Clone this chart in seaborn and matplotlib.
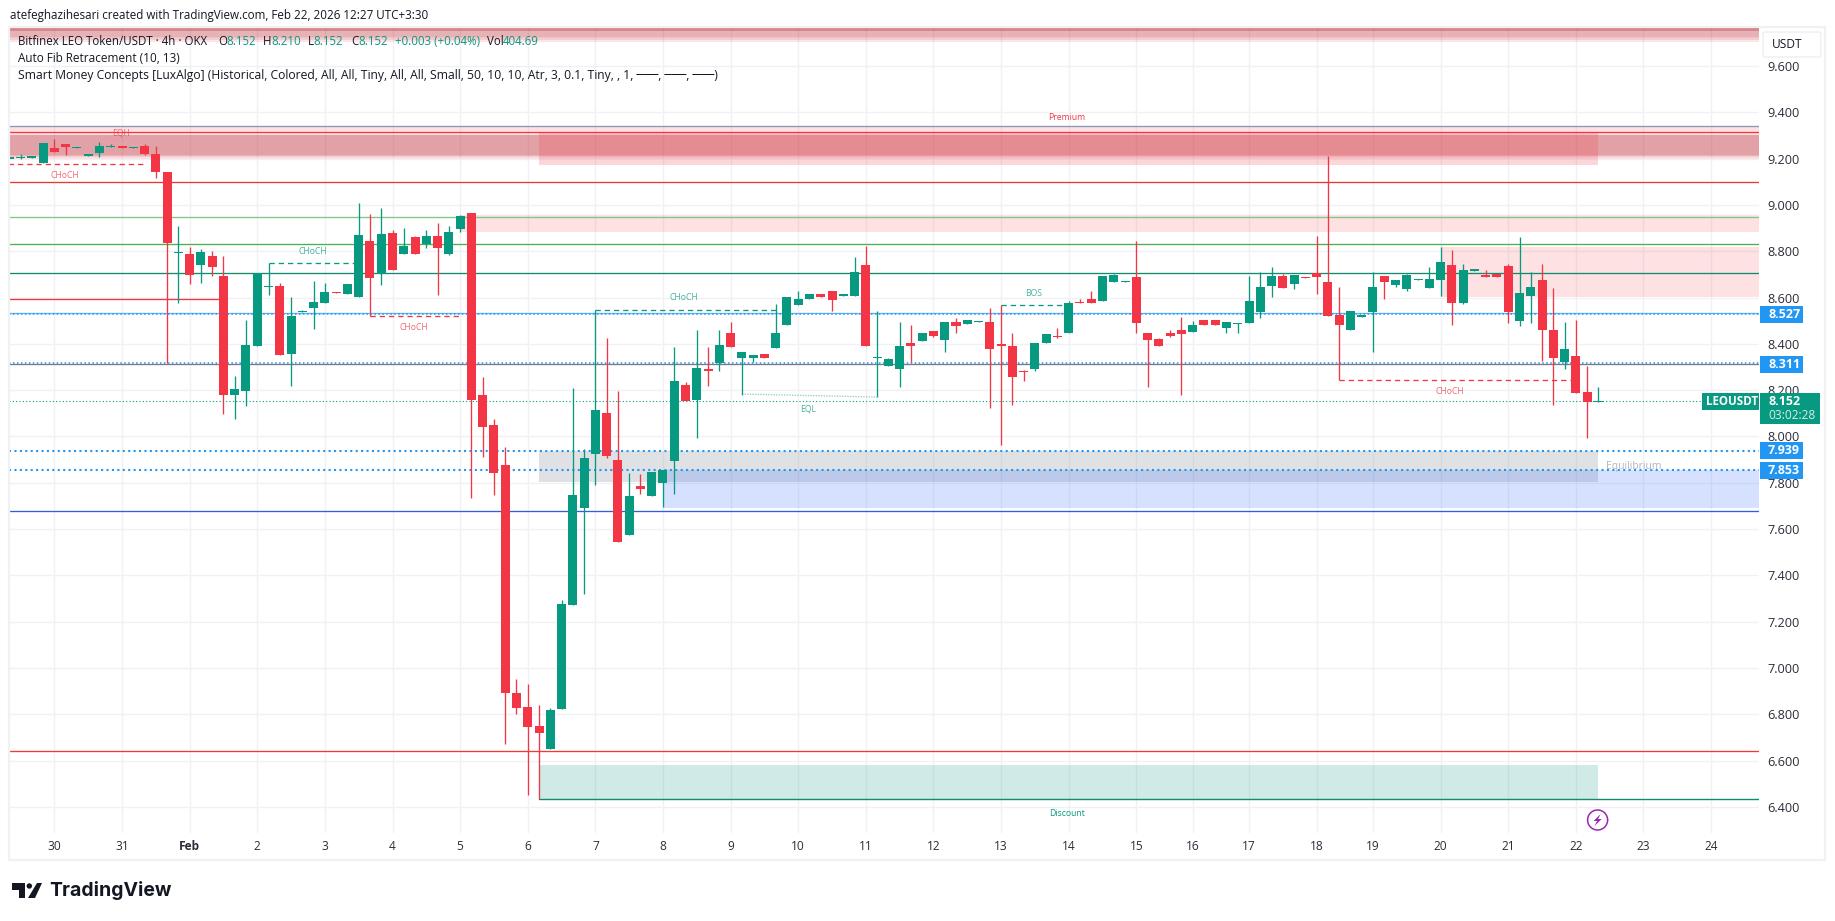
import numpy as np
import pandas as pd
import matplotlib
matplotlib.use("Agg")
import matplotlib.pyplot as plt
from matplotlib.patches import Rectangle, FancyBboxPatch, Polygon
import seaborn as sns

W, H = 1835, 921
GREEN, RED, BLUE = "#089981", "#f23645", "#2196f3"

first_index = -4
open_prices = [
 9.200,9.202,9.204,9.182,9.244,9.262,9.247,9.213,9.226,9.248,9.253,9.247,9.254,9.220,9.142,8.792,8.788,8.740,8.779,8.693,
 8.179,8.197,8.390,8.645,8.650,8.356,8.537,8.554,8.578,8.625,8.615,8.604,8.844,8.701,8.878,8.788,8.861,8.830,8.866,8.786,
 8.896,8.965,8.179,8.049,7.877,6.892,6.831,6.749,6.650,6.823,7.272,7.691,7.924,8.101,7.898,7.574,7.786,7.743,7.799,7.895,
 8.222,8.157,8.289,8.317,8.447,8.339,8.339,8.356,8.382,8.481,8.568,8.594,8.615,8.628,8.608,8.607,8.740,8.339,8.304,8.291,
 8.404,8.412,8.456,8.417,8.494,8.486,8.494,8.494,8.397,8.391,8.284,8.291,8.404,8.434,8.447,8.582,8.594,8.585,8.667,8.667,
 8.689,8.447,8.421,8.447,8.460,8.451,8.503,8.503,8.468,8.486,8.490,8.538,8.650,8.693,8.659,8.689,8.706,8.667,8.525,8.460,
 8.517,8.538,8.693,8.654,8.637,8.676,8.641,8.676,8.741,8.576,8.715,8.697,8.702,8.736,8.499,8.607,8.676,8.460,8.322,8.348,
 8.192,8.149]
high_prices = [
 9.206,9.220,9.210,9.266,9.283,9.262,9.252,9.218,9.270,9.263,9.255,9.252,9.262,9.256,9.142,8.909,8.818,8.809,8.801,8.779,
 8.261,8.503,8.704,8.748,8.661,8.603,8.546,8.671,8.661,8.625,8.658,9.010,8.961,8.986,8.891,8.900,8.866,8.891,8.920,8.909,
 8.956,8.965,8.256,8.075,7.953,6.952,6.930,6.840,6.827,7.293,8.207,7.946,8.544,8.425,8.196,7.842,7.838,7.846,7.857,8.386,
 8.235,8.460,8.386,8.460,8.494,8.365,8.352,8.356,8.572,8.602,8.628,8.615,8.615,8.628,8.613,8.775,8.823,8.542,8.339,8.494,
 8.481,8.447,8.456,8.494,8.512,8.503,8.500,8.555,8.566,8.447,8.287,8.404,8.443,8.468,8.585,8.594,8.628,8.693,8.703,8.672,
 8.844,8.447,8.425,8.460,8.516,8.499,8.503,8.503,8.494,8.492,8.693,8.710,8.732,8.702,8.697,8.689,8.866,9.211,8.646,8.542,
 8.523,8.710,8.693,8.676,8.702,8.682,8.732,8.818,8.805,8.745,8.725,8.719,8.702,8.745,8.862,8.710,8.745,8.641,8.494,8.503,
 8.304,8.214]
low_prices = [
 9.200,9.200,9.204,9.182,9.228,9.215,9.247,9.213,9.205,9.248,9.247,9.247,9.214,9.117,8.315,8.578,8.658,8.661,8.693,8.097,
 8.075,8.131,8.390,8.611,8.351,8.217,8.537,8.464,8.578,8.618,8.615,8.604,8.520,8.654,8.719,8.788,8.788,8.812,8.611,8.783,
 8.881,7.734,7.911,7.747,6.671,6.801,6.451,6.432,6.650,6.823,7.272,7.319,7.790,7.908,7.544,7.574,7.751,7.743,7.694,7.751,
 8.153,7.993,8.218,8.283,8.386,8.180,8.322,8.339,8.382,8.481,8.568,8.594,8.602,8.542,8.608,8.607,8.391,8.172,8.304,8.214,
 8.322,8.412,8.430,8.365,8.447,8.486,8.494,8.123,7.963,8.136,8.240,8.283,8.404,8.425,8.447,8.576,8.576,8.585,8.667,8.667,
 8.447,8.214,8.391,8.430,8.179,8.451,8.481,8.481,8.447,8.447,8.490,8.512,8.602,8.641,8.637,8.685,8.615,8.520,8.242,8.460,
 8.517,8.365,8.594,8.646,8.630,8.676,8.641,8.607,8.481,8.570,8.715,8.689,8.689,8.490,8.477,8.490,8.326,8.136,8.291,8.188,
 7.993,8.149]
close_prices = [
 9.206,9.207,9.210,9.266,9.228,9.250,9.252,9.218,9.254,9.253,9.247,9.252,9.220,9.143,8.837,8.798,8.697,8.796,8.733,8.179,
 8.205,8.395,8.704,8.651,8.351,8.520,8.543,8.580,8.622,8.618,8.658,8.870,8.686,8.874,8.719,8.822,8.788,8.866,8.814,8.883,
 8.952,8.157,8.042,7.843,6.893,6.827,6.745,6.719,6.818,7.276,7.747,7.907,8.114,7.916,7.544,7.743,7.773,7.846,7.855,8.240,
 8.153,8.296,8.283,8.395,8.386,8.365,8.352,8.339,8.447,8.602,8.594,8.615,8.602,8.589,8.613,8.710,8.391,8.345,8.335,8.391,
 8.391,8.447,8.434,8.494,8.477,8.503,8.500,8.378,8.391,8.257,8.278,8.404,8.443,8.428,8.576,8.576,8.576,8.693,8.697,8.672,
 8.490,8.417,8.391,8.434,8.443,8.481,8.481,8.481,8.494,8.492,8.585,8.646,8.693,8.641,8.697,8.685,8.689,8.520,8.481,8.542,
 8.523,8.646,8.667,8.676,8.697,8.682,8.680,8.754,8.576,8.719,8.721,8.689,8.689,8.538,8.620,8.646,8.460,8.339,8.378,8.188,
 8.149,8.152]

day_labels = ["30","31","Feb","2","3","4","5","6","7","8","9","10","11","12","13","14","15","16","17","18","19","20","21","22","23","24"]
day_positions = [0,6,12,18,24,30,36,42,48,54,60,66,72,78,84,90,96,101,106,112,117,123,129,135,141,147]
price_ticks = [6.4,6.6,6.8,7.0,7.2,7.4,7.6,7.8,8.0,8.2,8.4,8.6,8.8,9.0,9.2,9.4,9.6]

# horizontal levels: price, colour
level_prices = [9.342, 9.314, 9.100, 8.949, 8.830, 8.704, 8.531, 8.311, 7.676, 6.643]
level_colors = ["#8e95b8", RED, "#e53935", "#81c784", "#4caf50", "#138a6e", "#64b5f6", "#787b86", "#2f5fdc", "#f23b2f"]
dotted_prices = [8.527, 8.315, 7.939, 7.853]
dotted_widths = [1.1, 1.1, 1.5, 1.5]
last_price = 8.152

# zones: left index (None = chart edge), right index (None = chart edge), top, bottom, colour, alpha
zone_rows = [
 (None, None, 9.768, 9.705, RED, .13),
 (None, None, 9.768, 9.714, "#b22833", .12),
 (None, None, 9.768, 9.719, "#b22833", .07),
 (None, None, 9.768, 9.726, "#b22833", .1),
 (None, None, 9.764, 9.751, "#b22833", .3),
 (None, None, 9.342, 9.200, RED, .15),
 (None, None, 9.302, 9.217, "#b22833", .13),
 (None, None, 9.302, 9.212, "#b22833", .13),
 (None, None, 9.302, 9.208, "#b22833", .13),
 (43, 137, 9.314, 9.172, RED, .2),
 (36, None, 8.956, 8.881, RED, .15),
 (123, None, 8.818, 8.602, RED, .15),
 (43, 137, 7.939, 7.801, "#878b94", .25),
 (54, None, 7.853, 7.692, "#2962ff", .19),
 (43, 137, 6.579, 6.432, GREEN, .19),
]
# structure lines: x0, x1, y0, y1, colour, style
structure_rows = [
 (-8, 8, 9.175, 9.175, RED, (0, (4, 3))),
 (19, 27, 8.747, 8.747, GREEN, (0, (4, 3))),
 (28, 36, 8.520, 8.520, RED, (0, (4, 3))),
 (48, 64, 8.545, 8.545, GREEN, (0, (4, 3))),
 (84, 90, 8.566, 8.566, GREEN, (0, (4, 3))),
 (114, 135, 8.242, 8.242, RED, (0, (4, 3))),
 (4, 8, 9.268, 9.260, "#f7a0a8", (0, (1, 1))),
 (61, 73, 8.183, 8.170, "#8fd0c4", (0, (1, 1))),
 (43, None, 6.432, 6.432, "#138a6e", "-"),
]
tag_rows = [
 ("EQH", 121, 133, RED), ("CHoCH", 65, 175, RED), ("CHoCH", 313, 251, GREEN), ("CHoCH", 414, 328, RED),
 ("CHoCH", 684, 297, GREEN), ("EQL", 808, 409, GREEN), ("BOS", 1034, 293, GREEN), ("CHoCH", 1450, 391, RED),
 ("Premium", 1067, 117, RED), ("Discount", 1067, 813, GREEN),
]

sns.set_theme(style="whitegrid", rc={"grid.color": "#f0f1f4", "grid.linewidth": 1.0, "axes.edgecolor": "white"})
FONT = ["Open Sans", "DejaVu Sans"]
plt.rcParams["font.family"] = FONT

candles = pd.DataFrame({"open": open_prices, "high": high_prices, "low": low_prices, "close": close_prices})
candles["idx"] = np.arange(len(candles)) + first_index
candles["body"] = (candles["close"] - candles["open"]).abs()
candles["base"] = candles[["open", "close"]].min(axis=1)
candles["up"] = candles["close"] >= candles["open"]

fig = plt.figure(figsize=(W / 100, H / 100), dpi=100, facecolor="white")
L, R, T, B = 9, 1759, 27, 833
ax = fig.add_axes([L / W, 1 - B / H, (R - L) / W, (B - T) / H], facecolor="none")
ax.set_axisbelow(True)

to_idx = lambda px: (px - 54.4) / 11.27
to_price = lambda py: 9.6 - (py - 66) / 231.5
xlim = (to_idx(L), to_idx(R))
ylim = (to_price(B), to_price(T))

# zones
for x0, x1, top, bot, col, a in zone_rows:
    x0 = xlim[0] if x0 is None else x0
    x1 = xlim[1] if x1 is None else x1
    ax.add_patch(Rectangle((x0, bot), x1 - x0, top - bot, facecolor=col, alpha=a, lw=0, zorder=1))

# levels
for p, c in zip(level_prices, level_colors):
    ax.axhline(p, color=c, lw=0.95, zorder=2)
ax.plot([-8, to_idx(223)], [8.592, 8.592], color=RED, lw=0.95, zorder=2)
for p, w in zip(dotted_prices, dotted_widths):
    ax.axhline(p, color=BLUE, lw=w, ls=(0, (1, 1.6)), zorder=2.5, dash_capstyle="butt")
ax.axhline(last_price, color=GREEN, lw=0.8, ls=(0, (1, 2)), zorder=2.5)

for x0, x1, y0, y1, c, s in structure_rows:
    x1 = xlim[1] if x1 is None else x1
    ax.plot([x0, x1], [y0, y1], color=c, lw=1.0 if s == "-" else 0.95, ls=s, zorder=3)

# candles
for is_up, col in [(True, GREEN), (False, RED)]:
    sub = candles[candles["up"] == is_up]
    ax.vlines(sub["idx"], sub["low"], sub["high"], color=col, lw=0.95, zorder=5)
    sns.barplot(data=sub, x="idx", y="body", bottom=sub["base"].to_numpy(), native_scale=True,
                errorbar=None, width=0.8, color=col, saturation=1, linewidth=0, zorder=6, ax=ax)

ax.set_xlim(*xlim)
ax.set_ylim(*ylim)
ax.set_xlabel("")
ax.set_ylabel("")
ax.set_xticks(day_positions, day_labels)
ax.set_yticks(price_ticks, [f"{v:.3f}" for v in price_ticks])
ax.yaxis.tick_right()
ax.tick_params(axis="x", length=0, pad=5, labelsize=8.6, labelcolor="#2a2e39", labelbottom=True)
ax.tick_params(axis="y", length=0, pad=6, labelsize=9.2, labelcolor="#2a2e39", labelright=True, labelleft=False)
for lab in ax.get_xticklabels():
    if lab.get_text() == "Feb":
        lab.set_fontweight("bold")
ax.grid(True, zorder=0)
for s in ax.spines.values():
    s.set_visible(False)


def ptext(x, y, s, **kw):
    kw.setdefault("va", "center")
    kw.setdefault("color", "#131722")
    kw.setdefault("fontsize", 8.6)
    return fig.text(x / W, 1 - y / H, s, **kw)


def pbox(x0, y0, x1, y1, color):
    fig.add_artist(Rectangle((x0 / W, 1 - y1 / H), (x1 - x0) / W, (y1 - y0) / H, transform=fig.transFigure,
                             facecolor=color, edgecolor="none", zorder=2))


# chart frame
fig.add_artist(Rectangle((L / W, 1 - 860 / H), (1825 - L) / W, (860 - T) / H, transform=fig.transFigure,
                         facecolor="none", edgecolor="#f0f1f3", lw=1.6, zorder=1))

# small tags
for s, x, y, c in tag_rows:
    ptext(x, y, s, color=c, fontsize=6.2, ha="center", alpha=.75 if s not in ("Premium", "Discount") else 1)
ptext(1634, 466, "Equilibrium", color="#b2b5be", fontsize=7.4, ha="center")

# header and legend
ptext(10, 15, "atefeghazihesari created with TradingView.com, Feb 22, 2026 12:27 UTC+3:30", fontsize=8.4)
ptext(18, 41.7, "Bitfinex LEO Token/USDT · 4h · OKX", fontsize=8.3)
for x, s, c in [(218, "O", None), (226, "8.152", GREEN), (263, "H", None), (271, "8.210", GREEN), (308, "L", None),
                (313.5, "8.152", GREEN), (351, "C", None), (358, "8.152", GREEN), (395, "+0.003 (+0.04%)", GREEN),
                (487, "Vol", None), (503, "404.69", GREEN)]:
    ptext(x, 41.7, s, fontsize=8.3, color=c or "#131722")
ptext(18, 59, "Auto Fib Retracement (10, 13)", fontsize=8.5)
ptext(18, 76, "Smart Money Concepts [LuxAlgo] (Historical, Colored, All, All, Tiny, All, All, Small, 50, 10, 10, Atr, 3, 0.1, Tiny, , 1, ───, ───, ───)", fontsize=8.7)

# USDT button
fig.add_artist(FancyBboxPatch((1765 / W, 1 - 56 / H), 54 / W, 23 / H, transform=fig.transFigure,
                              boxstyle="round,pad=0.001", facecolor="white", edgecolor="#f0f1f3", lw=1.2, zorder=2))
ptext(1772, 44.5, "USDT", fontsize=8.6, zorder=4)

# price labels
for y0, y1, s in [(306, 323, "8.527"), (356, 373, "8.311"), (442, 459, "7.939"), (462, 479, "7.853")]:
    pbox(1760, y0, 1803, y1, BLUE)
    ptext(1768, (y0 + y1) / 2, s, color="white", fontsize=9.0, fontweight="bold", zorder=4)
pbox(1702, 393, 1759, 410, GREEN)
ptext(1706, 401.6, "LEOUSDT", color="white", fontsize=8.4, fontweight="bold", zorder=4)
pbox(1760, 393, 1820, 424, GREEN)
ptext(1768, 401.6, "8.152", color="white", fontsize=9.0, fontweight="bold", zorder=4)
ptext(1768, 415.7, "03:02:28", color="#d5efe9", fontsize=8.6, zorder=4)

# bolt marker
cx, cy = 1597.6, 820
pts = [(cx + 3, cy - 6), (cx - 4, cy + 1), (cx - 0.5, cy + 1), (cx - 3, cy + 6), (cx + 4, cy - 1), (cx + 0.5, cy - 1)]
fig.add_artist(Polygon([(x / W, 1 - y / H) for x, y in pts], closed=True, transform=fig.transFigure,
                       facecolor="#9c27b0", edgecolor="none", zorder=3))
theta = np.linspace(0, 2 * np.pi, 80)
fig.add_artist(plt.Line2D((cx + 10 * np.cos(theta)) / W, 1 - (cy + 10 * np.sin(theta)) / H, color="#9c27b0", lw=1.1,
                          transform=fig.transFigure, zorder=3))

# TradingView logo
logo_pts = [[(12, 883), (25.3, 883), (25.3, 898), (18.6, 898), (18.6, 890), (12, 890)],
            [(37, 883), (42, 883), (35, 898), (28, 898)]]
for pts in logo_pts:
    fig.add_artist(Polygon([(x / W, 1 - y / H) for x, y in pts], closed=True, transform=fig.transFigure,
                           facecolor="#131722", edgecolor="none", zorder=3))
th = np.linspace(0, 2 * np.pi, 40)
fig.add_artist(Polygon(np.c_[(29.3 + 2.7 * np.cos(th)) / W, 1 - (886 + 2.7 * np.sin(th)) / H], closed=True,
                       transform=fig.transFigure, facecolor="#131722", edgecolor="none", zorder=3))
ptext(49, 890.5, "TradingView", fontsize=14, fontweight="bold", family=["Inter", "DejaVu Sans"], color="#131722")

fig.savefig("out.png", dpi=100, facecolor="white")
